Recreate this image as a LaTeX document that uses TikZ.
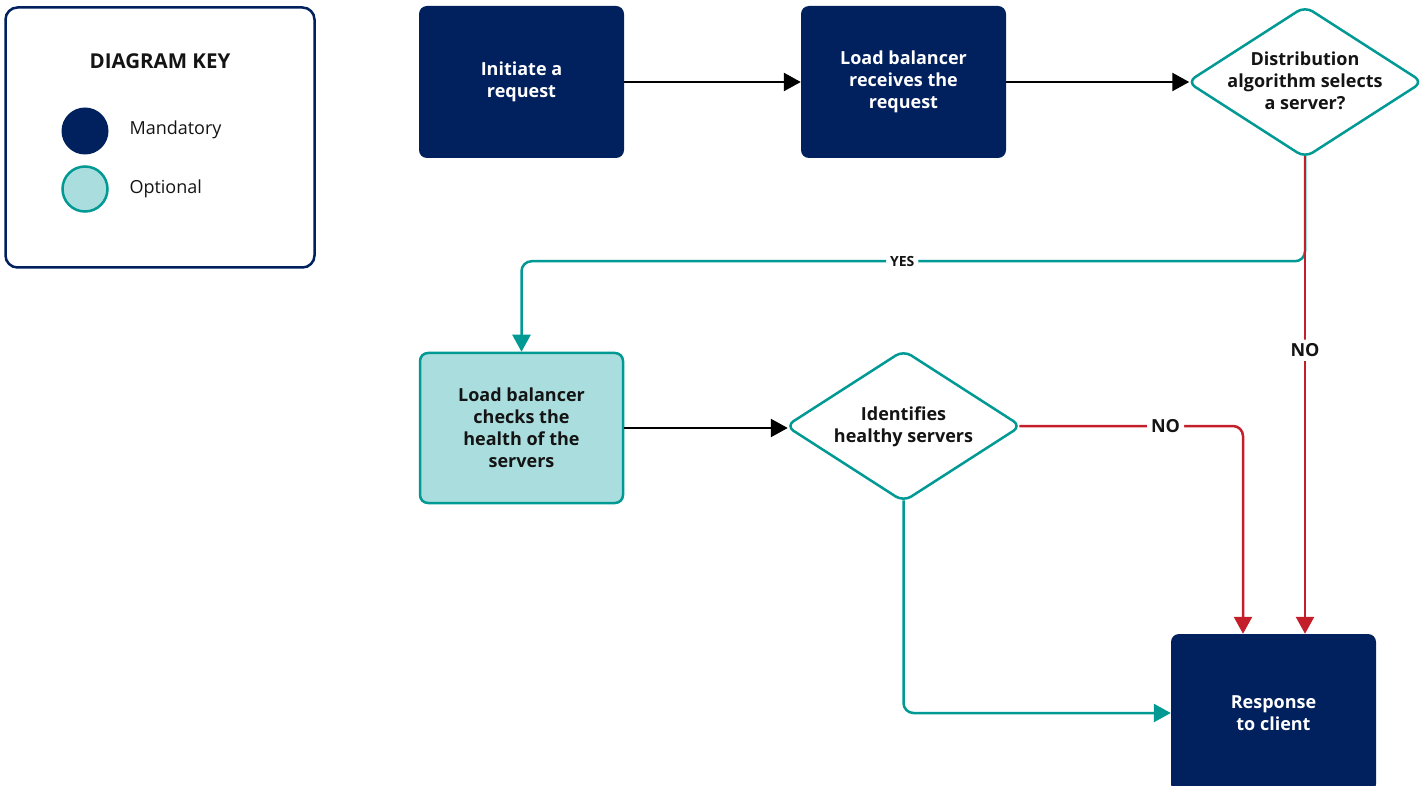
\documentclass[tikz,border=0pt]{standalone}
\usepackage{fontspec}
\setmainfont{Open Sans}
\usetikzlibrary{shapes.geometric,arrows.meta}
\definecolor{navy}{RGB}{0,33,94}
\definecolor{tealline}{RGB}{0,153,148}
\definecolor{tealfill}{RGB}{170,222,222}
\definecolor{redline}{RGB}{196,30,42}
\definecolor{inkgray}{RGB}{20,20,20}
\tikzset{
  boxtext/.style={font=\fontsize{18}{22}\selectfont\bfseries, align=center},
  navybox/.style={boxtext, rectangle, rounded corners=8pt, fill=navy, text=white,
    minimum width=205pt, minimum height=152pt, inner sep=0pt},
  lightbox/.style={boxtext, rectangle, rounded corners=8pt, fill=tealfill, draw=tealline,
    line width=2.5pt, text=inkgray, minimum width=203pt, minimum height=150pt, inner sep=0pt},
  decision/.style={diamond, rounded corners=9pt, fill=white, draw=tealline,
    line width=2.5pt, minimum width=236pt, minimum height=152pt, inner sep=0pt},
  decisiontext/.style={boxtext, text=inkgray, inner sep=0pt},
  flow/.style={line width=2.5pt, -{Triangle[width=18pt,length=17pt]}},
  blackflow/.style={flow, draw=black},
  tealflow/.style={flow, draw=tealline, rounded corners=10pt},
  redflow/.style={flow, draw=redline, rounded corners=10pt},
  edgelabel/.style={fill=white, inner sep=4pt, text=inkgray},
  keytext/.style={font=\fontsize{18}{22}\selectfont, text=inkgray, anchor=west}
}
\begin{document}
\begin{tikzpicture}[x=1pt,y=-1pt]
\useasboundingbox (0,0) rectangle (1422,786);
\clip (0,0) rectangle (1422,786);

% diagram key
\node[draw=navy, line width=2.5pt, rounded corners=12pt, minimum width=309pt,
      minimum height=260pt, inner sep=0pt] (key) at (160,137.5) {};
\node[font=\fontsize{20.5}{24}\selectfont\bfseries, text=inkgray] (keytitle) at (160,61) {DIAGRAM KEY};
\node[circle, fill=navy, minimum size=47pt, inner sep=0pt] (mandcircle) at (85,131) {};
\node[keytext] (mandtext) at (126,130) {Mandatory};
\node[circle, fill=tealfill, draw=tealline, line width=2.5pt, minimum size=45pt, inner sep=0pt] (optcircle) at (85,189) {};
\node[keytext] (opttext) at (126,189) {Optional};

% process steps
\node[navybox] (init) at (521.5,82) {Initiate a\\request};
\node[navybox] (recv) at (903.5,82) {Load balancer\\receives the\\request};
\node[decision] (dist) at (1305,82) {};
\node[decisiontext] (disttext) at ([yshift=1pt]dist.center) {Distribution\\algorithm selects\\a server?};
\node[lightbox] (check) at (521.5,428) {Load balancer\\checks the\\health of the\\servers};
\node[decision] (ident) at (903.5,426) {};
\node[decisiontext] (identtext) at ([yshift=-1pt]ident.center) {Identifies\\healthy servers};
\node[navybox, minimum height=158pt] (resp) at (1273.5,713) {Response\\to client};

% the rounded tips of a decision sit slightly inside its anchors
\coordinate (distin)  at ([xshift=3.5pt]dist.west);
\coordinate (distout) at ([yshift=3pt]dist.south);
\coordinate (identin) at ([xshift=3.5pt]ident.west);
\coordinate (identno) at ([xshift=-3.5pt]ident.east);
\coordinate (identyes) at ([yshift=3pt]ident.south);

% connectors
\draw[blackflow] (init) -- (recv);
\draw[blackflow] (recv) -- (distin);
\draw[tealflow] (distout) -- ++(0,105)
  -| node[pos=0.257, edgelabel, font=\fontsize{14}{16}\selectfont\bfseries] {YES} (check.north);
\draw[redflow] (distout) -- node[pos=0.406, edgelabel, font=\fontsize{18}{20}\selectfont\bfseries] {NO}
  (resp.north -| distout);
\draw[blackflow] (check.east) -- (check.east -| identin);
\draw[tealflow] (identyes) |- (resp.west);
\draw[redflow] (identno) -| node[pos=0.327, edgelabel, font=\fontsize{18}{20}\selectfont\bfseries] {NO}
  ([xshift=-30.5pt]resp.north);
\end{tikzpicture}
\end{document}
